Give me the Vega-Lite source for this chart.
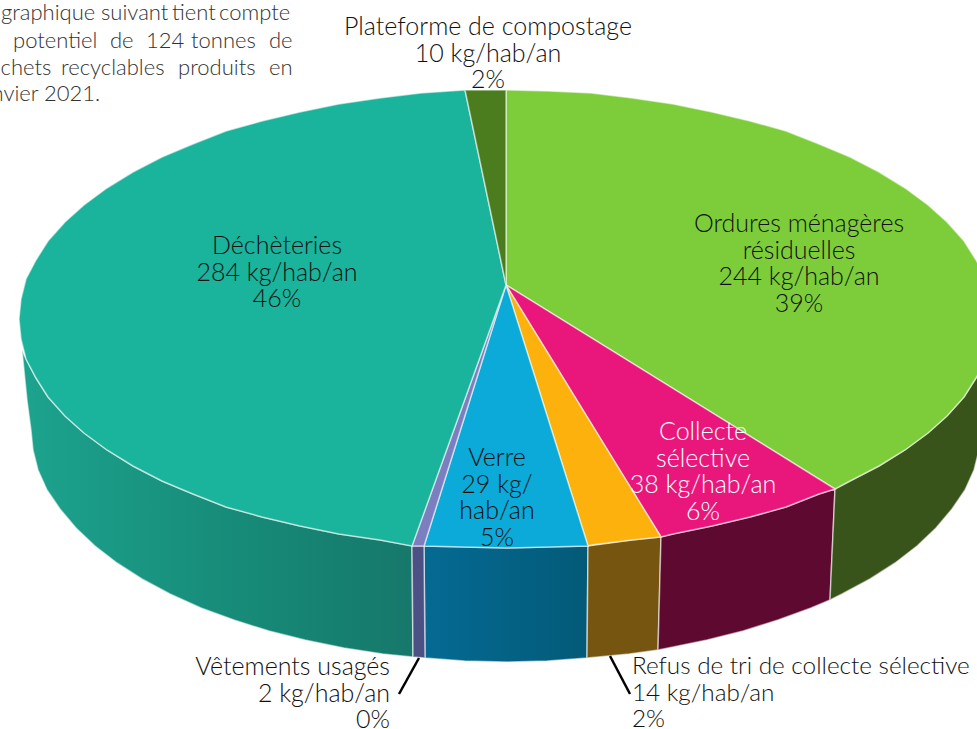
{"$schema":"https://vega.github.io/schema/vega-lite/v6.json","width":977,"height":729,"padding":0,"autosize":{"type":"none"},"background":"white","config":{"view":{"stroke":null},"text":{"font":"Lato","fontWeight":300}},
"datasets":{
"walls":[
{"slice":"Déchèteries","seq":1,"x":412,"y":546},{"slice":"Déchèteries","seq":2,"x":380,"y":540},{"slice":"Déchèteries","seq":3,"x":339,"y":534},{"slice":"Déchèteries","seq":4,"x":300,"y":526},{"slice":"Déchèteries","seq":5,"x":262,"y":517},{"slice":"Déchèteries","seq":6,"x":226,"y":507},{"slice":"Déchèteries","seq":7,"x":193,"y":494},{"slice":"Déchèteries","seq":8,"x":162,"y":481},{"slice":"Déchèteries","seq":9,"x":133,"y":466},{"slice":"Déchèteries","seq":10,"x":107,"y":450},{"slice":"Déchèteries","seq":11,"x":84,"y":433},{"slice":"Déchèteries","seq":12,"x":65,"y":416},{"slice":"Déchèteries","seq":13,"x":48,"y":397},{"slice":"Déchèteries","seq":14,"x":36,"y":378},{"slice":"Déchèteries","seq":15,"x":26,"y":359},{"slice":"Déchèteries","seq":16,"x":22,"y":350},{"slice":"Déchèteries","seq":17,"x":27,"y":400},{"slice":"Déchèteries","seq":18,"x":31,"y":430},{"slice":"Déchèteries","seq":19,"x":33,"y":450},{"slice":"Déchèteries","seq":20,"x":38,"y":470},{"slice":"Déchèteries","seq":21,"x":47,"y":490},{"slice":"Déchèteries","seq":22,"x":60,"y":509},{"slice":"Déchèteries","seq":23,"x":76,"y":528},{"slice":"Déchèteries","seq":24,"x":95,"y":546},{"slice":"Déchèteries","seq":25,"x":117,"y":563},{"slice":"Déchèteries","seq":26,"x":142,"y":579},{"slice":"Déchèteries","seq":27,"x":170,"y":594},{"slice":"Déchèteries","seq":28,"x":201,"y":608},{"slice":"Déchèteries","seq":29,"x":234,"y":620},{"slice":"Déchèteries","seq":30,"x":269,"y":631},{"slice":"Déchèteries","seq":31,"x":305,"y":640},{"slice":"Déchèteries","seq":32,"x":344,"y":648},{"slice":"Déchèteries","seq":33,"x":383,"y":654},{"slice":"Déchèteries","seq":34,"x":413,"y":657},{"slice":"Déchèteries","seq":35,"x":412,"y":546},
{"slice":"Vêtements usagés","seq":1,"x":412,"y":546},{"slice":"Vêtements usagés","seq":2,"x":424,"y":546},{"slice":"Vêtements usagés","seq":3,"x":425,"y":658},{"slice":"Vêtements usagés","seq":4,"x":413,"y":657},{"slice":"Vêtements usagés","seq":5,"x":412,"y":546},
{"slice":"Verre","seq":1,"x":424,"y":546},{"slice":"Verre","seq":2,"x":464,"y":547},{"slice":"Verre","seq":3,"x":506,"y":548},{"slice":"Verre","seq":4,"x":548,"y":547},{"slice":"Verre","seq":5,"x":588,"y":546},{"slice":"Verre","seq":6,"x":587,"y":658},{"slice":"Verre","seq":7,"x":547,"y":661},{"slice":"Verre","seq":8,"x":506,"y":662},{"slice":"Verre","seq":9,"x":465,"y":661},{"slice":"Verre","seq":10,"x":425,"y":658},{"slice":"Verre","seq":11,"x":424,"y":546},
{"slice":"Refus de tri","seq":1,"x":588,"y":546},{"slice":"Refus de tri","seq":2,"x":632,"y":540},{"slice":"Refus de tri","seq":3,"x":661,"y":537},{"slice":"Refus de tri","seq":4,"x":658,"y":650},{"slice":"Refus de tri","seq":5,"x":629,"y":654},{"slice":"Refus de tri","seq":6,"x":587,"y":658},{"slice":"Refus de tri","seq":7,"x":588,"y":546},
{"slice":"Collecte sélective","seq":1,"x":661,"y":537},{"slice":"Collecte sélective","seq":2,"x":673,"y":534},{"slice":"Collecte sélective","seq":3,"x":712,"y":526},{"slice":"Collecte sélective","seq":4,"x":750,"y":517},{"slice":"Collecte sélective","seq":5,"x":786,"y":507},{"slice":"Collecte sélective","seq":6,"x":819,"y":494},{"slice":"Collecte sélective","seq":7,"x":835,"y":489},{"slice":"Collecte sélective","seq":8,"x":830,"y":600},{"slice":"Collecte sélective","seq":9,"x":811,"y":608},{"slice":"Collecte sélective","seq":10,"x":778,"y":620},{"slice":"Collecte sélective","seq":11,"x":743,"y":631},{"slice":"Collecte sélective","seq":12,"x":707,"y":640},{"slice":"Collecte sélective","seq":13,"x":668,"y":648},{"slice":"Collecte sélective","seq":14,"x":658,"y":650},{"slice":"Collecte sélective","seq":15,"x":661,"y":537},
{"slice":"Ordures ménagères","seq":1,"x":835,"y":489},{"slice":"Ordures ménagères","seq":2,"x":850,"y":481},{"slice":"Ordures ménagères","seq":3,"x":879,"y":466},{"slice":"Ordures ménagères","seq":4,"x":905,"y":450},{"slice":"Ordures ménagères","seq":5,"x":928,"y":433},{"slice":"Ordures ménagères","seq":6,"x":947,"y":416},{"slice":"Ordures ménagères","seq":7,"x":964,"y":397},{"slice":"Ordures ménagères","seq":8,"x":976,"y":378},{"slice":"Ordures ménagères","seq":9,"x":986,"y":359},{"slice":"Ordures ménagères","seq":10,"x":991,"y":339},{"slice":"Ordures ménagères","seq":11,"x":993,"y":330},{"slice":"Ordures ménagères","seq":12,"x":985,"y":400},{"slice":"Ordures ménagères","seq":13,"x":981,"y":430},{"slice":"Ordures ménagères","seq":14,"x":979,"y":450},{"slice":"Ordures ménagères","seq":15,"x":974,"y":470},{"slice":"Ordures ménagères","seq":16,"x":965,"y":490},{"slice":"Ordures ménagères","seq":17,"x":952,"y":509},{"slice":"Ordures ménagères","seq":18,"x":936,"y":528},{"slice":"Ordures ménagères","seq":19,"x":917,"y":546},{"slice":"Ordures ménagères","seq":20,"x":895,"y":563},{"slice":"Ordures ménagères","seq":21,"x":870,"y":579},{"slice":"Ordures ménagères","seq":22,"x":842,"y":594},{"slice":"Ordures ménagères","seq":23,"x":830,"y":600},{"slice":"Ordures ménagères","seq":24,"x":835,"y":489}
],
"tops":[
{"slice":"Ordures ménagères","seq":0,"x":506,"y":285},{"slice":"Ordures ménagères","seq":1,"x":506,"y":90},{"slice":"Ordures ménagères","seq":2,"x":548,"y":91},{"slice":"Ordures ménagères","seq":3,"x":591,"y":93},{"slice":"Ordures ménagères","seq":4,"x":632,"y":98},{"slice":"Ordures ménagères","seq":5,"x":673,"y":104},{"slice":"Ordures ménagères","seq":6,"x":712,"y":112},{"slice":"Ordures ménagères","seq":7,"x":750,"y":121},{"slice":"Ordures ménagères","seq":8,"x":786,"y":131},{"slice":"Ordures ménagères","seq":9,"x":819,"y":144},{"slice":"Ordures ménagères","seq":10,"x":850,"y":157},{"slice":"Ordures ménagères","seq":11,"x":879,"y":172},{"slice":"Ordures ménagères","seq":12,"x":905,"y":188},{"slice":"Ordures ménagères","seq":13,"x":928,"y":205},{"slice":"Ordures ménagères","seq":14,"x":947,"y":222},{"slice":"Ordures ménagères","seq":15,"x":964,"y":241},{"slice":"Ordures ménagères","seq":16,"x":976,"y":260},{"slice":"Ordures ménagères","seq":17,"x":986,"y":279},{"slice":"Ordures ménagères","seq":18,"x":991,"y":299},{"slice":"Ordures ménagères","seq":19,"x":993,"y":319},{"slice":"Ordures ménagères","seq":20,"x":991,"y":339},{"slice":"Ordures ménagères","seq":21,"x":986,"y":359},{"slice":"Ordures ménagères","seq":22,"x":976,"y":378},{"slice":"Ordures ménagères","seq":23,"x":964,"y":397},{"slice":"Ordures ménagères","seq":24,"x":947,"y":416},{"slice":"Ordures ménagères","seq":25,"x":928,"y":433},{"slice":"Ordures ménagères","seq":26,"x":905,"y":450},{"slice":"Ordures ménagères","seq":27,"x":879,"y":466},{"slice":"Ordures ménagères","seq":28,"x":850,"y":481},{"slice":"Ordures ménagères","seq":29,"x":835,"y":489},{"slice":"Ordures ménagères","seq":30,"x":506,"y":285},
{"slice":"Collecte sélective","seq":0,"x":506,"y":285},{"slice":"Collecte sélective","seq":1,"x":835,"y":489},{"slice":"Collecte sélective","seq":2,"x":819,"y":494},{"slice":"Collecte sélective","seq":3,"x":786,"y":507},{"slice":"Collecte sélective","seq":4,"x":750,"y":517},{"slice":"Collecte sélective","seq":5,"x":712,"y":526},{"slice":"Collecte sélective","seq":6,"x":673,"y":534},{"slice":"Collecte sélective","seq":7,"x":661,"y":537},{"slice":"Collecte sélective","seq":8,"x":506,"y":285},
{"slice":"Refus de tri","seq":0,"x":506,"y":285},{"slice":"Refus de tri","seq":1,"x":661,"y":537},{"slice":"Refus de tri","seq":2,"x":632,"y":540},{"slice":"Refus de tri","seq":3,"x":591,"y":545},{"slice":"Refus de tri","seq":4,"x":588,"y":546},{"slice":"Refus de tri","seq":5,"x":506,"y":285},
{"slice":"Verre","seq":0,"x":506,"y":285},{"slice":"Verre","seq":1,"x":588,"y":546},{"slice":"Verre","seq":2,"x":548,"y":547},{"slice":"Verre","seq":3,"x":506,"y":548},{"slice":"Verre","seq":4,"x":464,"y":547},{"slice":"Verre","seq":5,"x":424,"y":546},{"slice":"Verre","seq":6,"x":506,"y":285},
{"slice":"Vêtements usagés","seq":0,"x":506,"y":285},{"slice":"Vêtements usagés","seq":1,"x":424,"y":546},{"slice":"Vêtements usagés","seq":2,"x":412,"y":546},{"slice":"Vêtements usagés","seq":3,"x":506,"y":285},
{"slice":"Déchèteries","seq":0,"x":506,"y":285},{"slice":"Déchèteries","seq":1,"x":412,"y":546},{"slice":"Déchèteries","seq":2,"x":380,"y":540},{"slice":"Déchèteries","seq":3,"x":339,"y":534},{"slice":"Déchèteries","seq":4,"x":300,"y":526},{"slice":"Déchèteries","seq":5,"x":262,"y":517},{"slice":"Déchèteries","seq":6,"x":226,"y":507},{"slice":"Déchèteries","seq":7,"x":193,"y":494},{"slice":"Déchèteries","seq":8,"x":162,"y":481},{"slice":"Déchèteries","seq":9,"x":133,"y":466},{"slice":"Déchèteries","seq":10,"x":107,"y":450},{"slice":"Déchèteries","seq":11,"x":84,"y":433},{"slice":"Déchèteries","seq":12,"x":65,"y":416},{"slice":"Déchèteries","seq":13,"x":48,"y":397},{"slice":"Déchèteries","seq":14,"x":36,"y":378},{"slice":"Déchèteries","seq":15,"x":26,"y":359},{"slice":"Déchèteries","seq":16,"x":21,"y":339},{"slice":"Déchèteries","seq":17,"x":19,"y":319},{"slice":"Déchèteries","seq":18,"x":21,"y":299},{"slice":"Déchèteries","seq":19,"x":26,"y":279},{"slice":"Déchèteries","seq":20,"x":36,"y":260},{"slice":"Déchèteries","seq":21,"x":48,"y":241},{"slice":"Déchèteries","seq":22,"x":65,"y":222},{"slice":"Déchèteries","seq":23,"x":84,"y":205},{"slice":"Déchèteries","seq":24,"x":107,"y":188},{"slice":"Déchèteries","seq":25,"x":133,"y":172},{"slice":"Déchèteries","seq":26,"x":162,"y":157},{"slice":"Déchèteries","seq":27,"x":193,"y":144},{"slice":"Déchèteries","seq":28,"x":226,"y":131},{"slice":"Déchèteries","seq":29,"x":262,"y":121},{"slice":"Déchèteries","seq":30,"x":300,"y":112},{"slice":"Déchèteries","seq":31,"x":339,"y":104},{"slice":"Déchèteries","seq":32,"x":380,"y":98},{"slice":"Déchèteries","seq":33,"x":421,"y":93},{"slice":"Déchèteries","seq":34,"x":465,"y":90},{"slice":"Déchèteries","seq":35,"x":506,"y":285},
{"slice":"Plateforme de compostage","seq":0,"x":506,"y":285},{"slice":"Plateforme de compostage","seq":1,"x":465,"y":90},{"slice":"Plateforme de compostage","seq":2,"x":506,"y":90},{"slice":"Plateforme de compostage","seq":3,"x":506,"y":285}
],
"labels":[
{"label":"Plateforme de compostage\n10 kg/hab/an\n2%","x":488,"y":35,"side":"center","ink":"dark"},
{"label":"Déchèteries\n284 kg/hab/an\n46%","x":277,"y":254,"side":"center","ink":"dark"},
{"label":"Ordures ménagères\nrésiduelles\n244 kg/hab/an\n39%","x":799,"y":232,"side":"center","ink":"dark"},
{"label":"Verre\n29 kg/\nhab/an\n5%","x":497,"y":466,"side":"center","ink":"dark"},
{"label":"Collecte\nsélective\n38 kg/hab/an\n6%","x":703,"y":440,"side":"center","ink":"light"},
{"label":"Vêtements usagés\n2 kg/hab/an\n0%","x":390,"y":675,"side":"right","ink":"dark"},
{"label":"Refus de tri de collecte sélective\n14 kg/hab/an\n2%","x":632,"y":674,"side":"left","ink":"dark"}
],
"words":[
{"word":"Le","x":-30,"y":20},{"word":"graphique","x":1,"y":20},{"word":"suivant","x":101,"y":20},{"word":"tient","x":172,"y":20},{"word":"compte","x":219,"y":20},
{"word":"du","x":-28,"y":48},{"word":"potentiel","x":13,"y":48},{"word":"de","x":110,"y":48},{"word":"124","x":146,"y":48},{"word":"tonnes","x":191,"y":48},{"word":"de","x":269,"y":48},
{"word":"déchets","x":-23,"y":75},{"word":"recyclables","x":61,"y":75},{"word":"produits","x":178,"y":75},{"word":"en","x":269,"y":75},
{"word":"janvier","x":-24,"y":101},{"word":"2021.","x":44,"y":101}
],
"leaders":[{"x":419,"y":658,"x2":399,"y2":694},{"x":610,"y":656,"x2":630,"y2":694}]
},
"layer":[
{"data":{"name":"walls"},"transform":[{"filter":"datum.slice==='Déchèteries'"}],"mark":{"type":"line","filled":true,"clip":true,"stroke":"#fff","strokeOpacity":0.55,"strokeWidth":1.5,"fill":{"gradient":"linear","x1":0,"x2":1,"y1":0,"y2":0,"stops":[{"offset":0,"color":"#1ca38e"},{"offset":0.5,"color":"#178d7a"},{"offset":1,"color":"#16786a"}]}},
"encoding":{"x":{"field":"x","type":"quantitative","scale":{"domain":[0,977],"nice":false,"zero":false},"axis":null},"y":{"field":"y","type":"quantitative","scale":{"domain":[729,0],"nice":false,"zero":false},"axis":null},"order":{"field":"seq","type":"quantitative"}}},
{"data":{"name":"walls"},"transform":[{"filter":"datum.slice==='Verre'"}],"mark":{"type":"line","filled":true,"clip":true,"stroke":"#fff","strokeOpacity":0.55,"strokeWidth":1.5,"fill":{"gradient":"linear","x1":0,"x2":1,"y1":0,"y2":0,"stops":[{"offset":0,"color":"#056a93"},{"offset":1,"color":"#035a78"}]}},
"encoding":{"x":{"field":"x","type":"quantitative"},"y":{"field":"y","type":"quantitative"},"order":{"field":"seq","type":"quantitative"}}},
{"data":{"name":"walls"},"transform":[{"filter":"datum.slice!=='Verre' && datum.slice!=='Déchèteries'"}],"mark":{"type":"line","filled":true,"clip":true,"stroke":"#fff","strokeOpacity":0.55,"strokeWidth":1.5},
"encoding":{"x":{"field":"x","type":"quantitative"},"y":{"field":"y","type":"quantitative"},"order":{"field":"seq","type":"quantitative"},"fill":{"field":"slice","type":"nominal","legend":null,"scale":{"domain":["Ordures ménagères","Collecte sélective","Refus de tri","Vêtements usagés"],"range":["#38541a","#5e0a30","#765510","#4b5184"]}}}},
{"data":{"name":"tops"},"mark":{"type":"line","filled":true,"clip":true,"stroke":"#fff","strokeOpacity":0.55,"strokeWidth":1.5},
"encoding":{"x":{"field":"x","type":"quantitative"},"y":{"field":"y","type":"quantitative"},"order":{"field":"seq","type":"quantitative"},"color":{"field":"slice","type":"nominal","legend":null,"scale":{"domain":["Ordures ménagères","Collecte sélective","Refus de tri","Verre","Vêtements usagés","Déchèteries","Plateforme de compostage"],"range":["#7ccd39","#e9177b","#fdb10d","#0baad9","#7b7fbf","#1ab39c","#4b7d1e"]}}}},
{"data":{"name":"leaders"},"mark":{"type":"rule","color":"#000","strokeWidth":2.5},"encoding":{"x":{"field":"x","type":"quantitative"},"y":{"field":"y","type":"quantitative"},"x2":{"field":"x2"},"y2":{"field":"y2"}}},
{"data":{"name":"words"},"mark":{"type":"text","align":"left","baseline":"alphabetic","fontSize":22,"color":"#333","clip":true},"encoding":{"x":{"field":"x","type":"quantitative"},"y":{"field":"y","type":"quantitative"},"text":{"field":"word"}}},
{"data":{"name":"labels"},"transform":[{"filter":"datum.side==='center' && datum.ink==='dark'"}],"mark":{"type":"text","align":"center","baseline":"alphabetic","fontSize":25,"lineBreak":"\n","lineHeight":26.7,"color":"#111"},"encoding":{"x":{"field":"x","type":"quantitative"},"y":{"field":"y","type":"quantitative"},"text":{"field":"label"}}},
{"data":{"name":"labels"},"transform":[{"filter":"datum.ink==='light'"}],"mark":{"type":"text","align":"center","baseline":"alphabetic","fontSize":25,"lineBreak":"\n","lineHeight":26.7,"color":"#fff"},"encoding":{"x":{"field":"x","type":"quantitative"},"y":{"field":"y","type":"quantitative"},"text":{"field":"label"}}},
{"data":{"name":"labels"},"transform":[{"filter":"datum.side==='right'"}],"mark":{"type":"text","align":"right","baseline":"alphabetic","fontSize":25,"lineBreak":"\n","lineHeight":26.7,"color":"#111"},"encoding":{"x":{"field":"x","type":"quantitative"},"y":{"field":"y","type":"quantitative"},"text":{"field":"label"}}},
{"data":{"name":"labels"},"transform":[{"filter":"datum.side==='left'"}],"mark":{"type":"text","align":"left","baseline":"alphabetic","fontSize":24.3,"lineBreak":"\n","lineHeight":26.7,"color":"#111"},"encoding":{"x":{"field":"x","type":"quantitative"},"y":{"field":"y","type":"quantitative"},"text":{"field":"label"}}}
],
"resolve":{"scale":{"color":"independent","fill":"independent"}}}
